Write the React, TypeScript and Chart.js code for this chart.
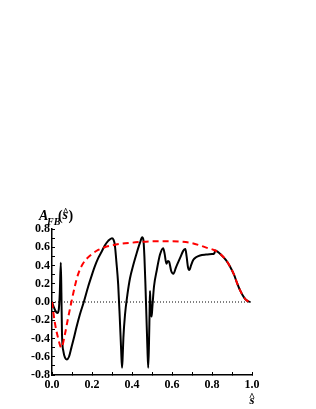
import { useEffect, useRef } from 'react';
import { Chart, registerables } from 'chart.js';

Chart.register(...registerables);

const blackS = [0.000, 0.008, 0.018, 0.027, 0.034, 0.039, 0.044, 0.047, 0.050, 0.057, 0.065, 0.074, 0.085, 0.097, 0.110, 0.122, 0.139, 0.159, 0.181, 0.200, 0.214, 0.231, 0.248, 0.264, 0.281, 0.300, 0.308, 0.314, 0.322, 0.331, 0.339, 0.346, 0.350, 0.353, 0.357, 0.365, 0.377, 0.390, 0.407, 0.424, 0.440, 0.451, 0.457, 0.462, 0.467, 0.472, 0.477, 0.481, 0.485, 0.488, 0.490, 0.492, 0.495, 0.498, 0.502, 0.510, 0.524, 0.540, 0.556, 0.563, 0.572, 0.580, 0.586, 0.596, 0.607, 0.620, 0.640, 0.656, 0.667, 0.673, 0.680, 0.687, 0.695, 0.706, 0.720, 0.740, 0.770, 0.800, 0.810, 0.818, 0.825, 0.840, 0.870, 0.890, 0.910, 0.925, 0.940, 0.960, 0.975, 0.990];
const blackA = [0.00, -0.05, -0.10, -0.12, -0.08, 0.10, 0.43, 0.10, -0.36, -0.54, -0.61, -0.63, -0.60, -0.50, -0.39, -0.28, -0.14, 0.00, 0.17, 0.30, 0.39, 0.48, 0.55, 0.62, 0.67, 0.70, 0.68, 0.63, 0.44, 0.19, -0.18, -0.54, -0.72, -0.62, -0.39, -0.14, 0.08, 0.26, 0.41, 0.54, 0.65, 0.71, 0.68, 0.50, 0.20, -0.15, -0.50, -0.72, -0.45, -0.10, 0.12, 0.00, -0.12, -0.16, -0.05, 0.17, 0.35, 0.52, 0.59, 0.53, 0.42, 0.45, 0.44, 0.34, 0.31, 0.38, 0.48, 0.56, 0.58, 0.50, 0.38, 0.35, 0.40, 0.46, 0.49, 0.51, 0.52, 0.525, 0.53, 0.565, 0.555, 0.53, 0.46, 0.39, 0.30, 0.21, 0.13, 0.05, 0.015, 0.00];

const redS = [0.000, 0.013, 0.030, 0.047, 0.064, 0.080, 0.097, 0.114, 0.130, 0.147, 0.164, 0.197, 0.231, 0.264, 0.300, 0.350, 0.400, 0.450, 0.500, 0.550, 0.600, 0.650, 0.700, 0.740, 0.780, 0.810, 0.840, 0.870, 0.890, 0.910, 0.925, 0.940, 0.960, 0.975, 0.990];
const redA = [0.00, -0.21, -0.39, -0.50, -0.36, -0.18, 0.00, 0.17, 0.30, 0.39, 0.45, 0.52, 0.57, 0.60, 0.62, 0.64, 0.65, 0.66, 0.665, 0.665, 0.665, 0.66, 0.645, 0.62, 0.59, 0.57, 0.53, 0.46, 0.39, 0.30, 0.21, 0.13, 0.05, 0.015, 0.00];

const zeroS = [0, 1];
const zeroA = [0, 0];

const xRange = [0, 1];
const yRange = [-0.8, 0.8];
const tickStep = 0.1;

const FONT = '"Liberation Serif", "Times New Roman", serif';

const toPoints = (xs: number[], ys: number[]) => xs.map((x, i) => ({ x, y: ys[i] }));

const labelFmt = (v: number) => {
  const k = Math.round(v * 10);
  return k % 2 === 0 ? (k / 10).toFixed(1) : '';
};

const textPlugin = {
  id: 'textPlugin',
  afterDraw(chart: any) {
    const ctx = chart.ctx;
    const { left, top, right, bottom } = chart.chartArea;
    ctx.save();
    ctx.fillStyle = '#000';
    ctx.textBaseline = 'alphabetic';
    ctx.textAlign = 'left';
    // y title: A_FB(ŝ)
    ctx.font = `italic bold 14px ${FONT}`;
    ctx.fillText('A', left - 13, top - 9.5);
    ctx.font = `italic bold 10px ${FONT}`;
    ctx.fillText('FB', left - 5, top - 4.5);
    ctx.font = `bold 14px ${FONT}`;
    ctx.fillText('(', left + 6, top - 9);
    ctx.font = `italic bold 14px ${FONT}`;
    ctx.fillText('s', left + 10.5, top - 10);
    ctx.font = `bold 11px ${FONT}`;
    ctx.fillText('^', left + 10.5, top - 14);
    ctx.font = `bold 14px ${FONT}`;
    ctx.fillText(')', left + 16.5, top - 9);
    // x title: ŝ
    ctx.textAlign = 'center';
    ctx.font = `bold 11px ${FONT}`;
    ctx.fillText('^', right, bottom + 25);
    ctx.font = `italic bold 13px ${FONT}`;
    ctx.fillText('s', right, bottom + 28.5);
    ctx.restore();
  },
};

export default function App() {
  const ref = useRef<HTMLCanvasElement>(null);
  useEffect(() => {
    if (!ref.current) return;
    const chart = new Chart(ref.current, {
      type: 'line',
      data: {
        datasets: [
          {
            data: toPoints(redS, redA),
            borderColor: '#ff0000',
            borderWidth: 2,
            borderDash: [6, 4],
            pointRadius: 0,
            fill: false,
            cubicInterpolationMode: 'monotone',
          },
          {
            data: toPoints(blackS, blackA),
            borderColor: '#000000',
            borderWidth: 2,
            pointRadius: 0,
            fill: false,
            cubicInterpolationMode: 'monotone',
          },
          {
            data: toPoints(zeroS, zeroA),
            borderColor: '#000000',
            borderWidth: 1,
            borderDash: [1, 2],
            pointRadius: 0,
            fill: false,
          },
        ],
      },
      options: {
        responsive: false,
        animation: false,
        events: [],
        layout: { padding: { left: 0, top: 229, right: 64, bottom: 0 } },
        plugins: { legend: { display: false }, tooltip: { enabled: false }, title: { display: false } },
        scales: {
          x: {
            type: 'linear',
            min: xRange[0],
            max: xRange[1],
            afterFit: (s: any) => { s.height = 34; },
            border: { color: '#000', width: 1.5 },
            grid: { drawOnChartArea: false, tickLength: -3, color: '#000', lineWidth: 1 },
            ticks: {
              stepSize: tickStep,
              autoSkip: false,
              maxRotation: 0,
              padding: 6,
              color: '#000',
              font: { family: FONT, size: 12, weight: 'bold' },
              callback: (v: any) => labelFmt(Number(v)),
            },
          },
          y: {
            type: 'linear',
            min: yRange[0],
            max: yRange[1],
            afterFit: (s: any) => { s.width = 52; },
            border: { color: '#000', width: 1.5 },
            grid: { drawOnChartArea: false, tickLength: -3, color: '#000', lineWidth: 1 },
            ticks: {
              stepSize: tickStep,
              autoSkip: false,
              padding: 5,
              color: '#000',
              font: { family: FONT, size: 12, weight: 'bold' },
              callback: (v: any) => labelFmt(Number(v)),
            },
          },
        },
      },
      plugins: [textPlugin],
    });
    return () => chart.destroy();
  }, []);
  return (
    <div style={{ position: 'fixed', left: 0, top: 0, width: 316, height: 409, background: '#fff' }}>
      <canvas ref={ref} width={316} height={409} />
    </div>
  );
}
